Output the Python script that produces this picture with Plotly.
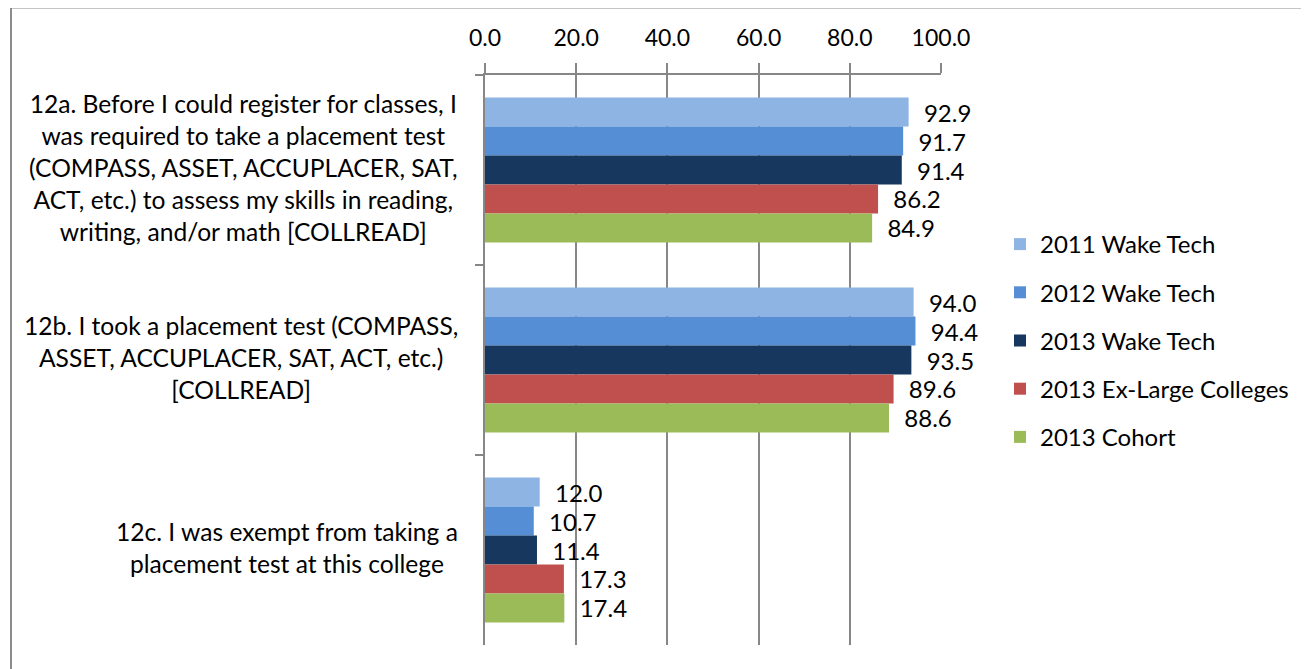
import plotly.graph_objects as go

categories = ["12a", "12b", "12c"]
category_labels = [
    "12a. Before I could register for classes, I<br>was required to take a placement test<br>(COMPASS, ASSET, ACCUPLACER, SAT,<br>ACT, etc.) to assess my skills in reading,<br>writing, and/or math [COLLREAD]",
    "12b. I took a placement test (COMPASS,<br>ASSET, ACCUPLACER, SAT, ACT, etc.)<br>[COLLREAD]",
    "12c. I was exempt from taking a<br>placement test at this college",
]
series_names = ["2011 Wake Tech", "2012 Wake Tech", "2013 Wake Tech",
                "2013 Ex-Large Colleges", "2013 Cohort"]
values_2011 = [92.9, 94.0, 12.0]
values_2012 = [91.7, 94.4, 10.7]
values_2013 = [91.4, 93.5, 11.4]
values_exlarge = [86.2, 89.6, 17.3]
values_cohort = [84.9, 88.6, 17.4]
series_values = [values_2011, values_2012, values_2013, values_exlarge, values_cohort]
colors = ["#8EB4E3", "#558ED5", "#17375E", "#C0504D", "#9BBB59"]
x_ticks = [0, 20, 40, 60, 80, 100]

FONT = "Lato"
OFF = 8  # page body margin
W, H = 1309 - OFF, 669 - OFF
# plot area in reference pixel coordinates
PX0, PX1, PY0, PY1 = 485, 941, 75, 645
L = PX0 - OFF
T = PY0 - OFF
pw = PX1 - PX0
ph = PY1 - PY0
R = W - L - pw
B = H - T - ph


def px_x(x):
    return (x - PX0) / pw


def px_y(y):
    return (PY1 - y) / ph


GRAY = "#878787"

fig = go.Figure()
for i, (name, vals) in enumerate(zip(series_names, series_values)):
    fig.add_trace(go.Bar(
        y=categories, x=vals, name=name, orientation="h",
        marker=dict(color=colors[i], line=dict(width=0)),
        text=["\u00a0\u00a0" + f"{v:.1f}" for v in vals],
        textposition="outside", constraintext="none", cliponaxis=False,
        textfont=dict(family=FONT, size=24, color="black"),
        legendgroup=f"g{i}",
    ))

for cat, lab in zip(categories, category_labels):
    fig.add_annotation(
        x=px_x(460), xref="paper", xanchor="right",
        y=cat, yref="y", yanchor="middle", yshift=3,
        text=lab, showarrow=False, align="center",
        font=dict(family=FONT, size=24.6, color="black"),
    )

fig.add_shape(type="rect", xref="paper", yref="paper",
              x0=px_x(11), x1=px_x(1400),
              y0=px_y(700), y1=px_y(7.5),
              line=dict(color="#8C8C8C", width=2), fillcolor="rgba(0,0,0,0)")

fig.update_layout(
    width=W, height=H,
    margin=dict(l=L, r=R, t=T, b=B),
    paper_bgcolor="white", plot_bgcolor="white",
    barmode="group", bargap=0.237, bargroupgap=0,
    font=dict(family=FONT, size=24, color="black"),
    showlegend=True,
    legend=dict(x=px_x(1000), xanchor="left", y=px_y(340.5), yanchor="middle",
                traceorder="grouped", tracegroupgap=14,
                font=dict(family=FONT, size=24, color="black"),
                bgcolor="rgba(0,0,0,0)"),
    xaxis=dict(range=[0, 100], side="top", tickvals=x_ticks,
               ticktext=[f"{t:.1f}" for t in x_ticks],
               ticks="outside", ticklen=10, tickcolor=GRAY, tickwidth=1.5,
               showgrid=True, gridcolor=GRAY, gridwidth=1.5,
               showline=True, linecolor=GRAY, linewidth=1.5,
               zeroline=False, ticklabelstandoff=8,
               tickfont=dict(family=FONT, size=23, color="black")),
    yaxis=dict(categoryorder="array", categoryarray=categories, autorange="reversed",
               showticklabels=False, ticks="outside", ticklen=8, tickson="boundaries",
               tickcolor=GRAY, tickwidth=1.5,
               showline=True, linecolor=GRAY, linewidth=1.5,
               showgrid=False, zeroline=False),
)

fig.write_html("out.html")
